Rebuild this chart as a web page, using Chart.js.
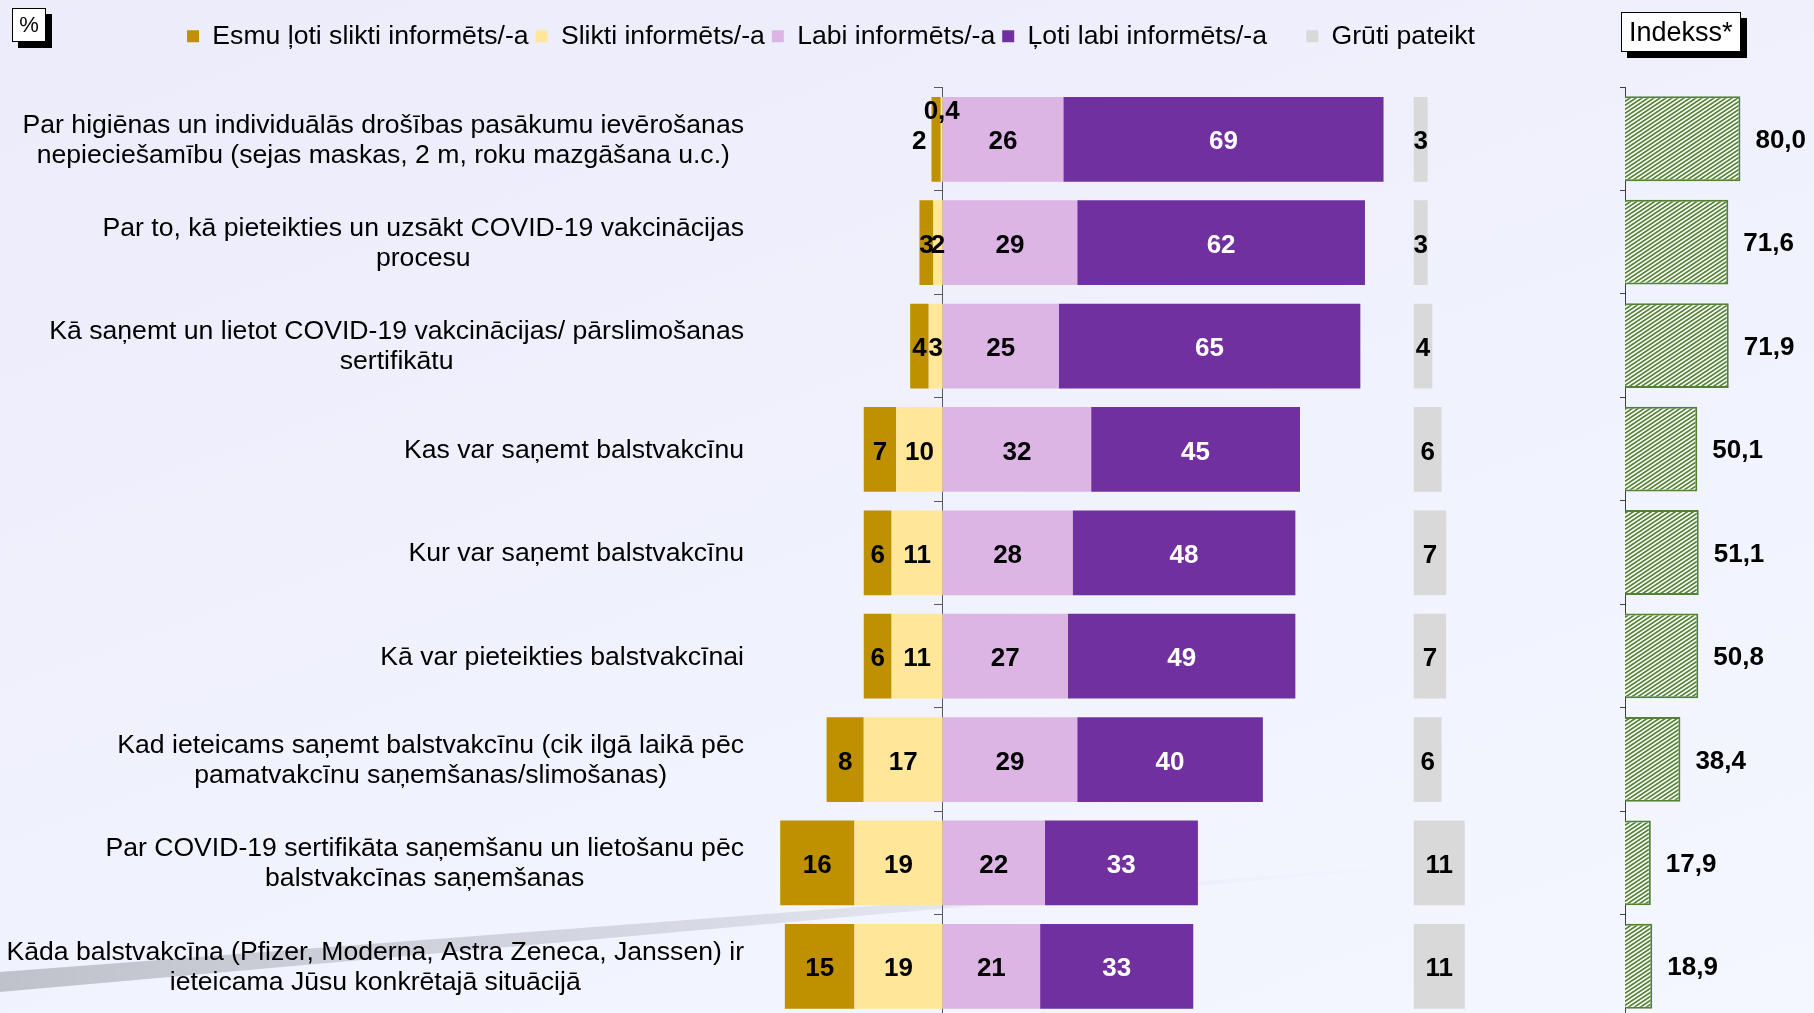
<!DOCTYPE html>
<html lang="lv">
<head>
<meta charset="utf-8">
<title>Informētība par balstvakcināciju</title>
<script src="https://cdn.jsdelivr.net/npm/chart.js@4.4.1/dist/chart.umd.min.js"></script>
<style>
  html, body { margin: 0; padding: 0; }
  body {
    width: 1814px;
    height: 1013px;
    overflow: hidden;
    position: relative;
    background: linear-gradient(160deg, #ECECFA 0%, #F0F2FD 55%, #F4F7FF 100%);
    font-family: "Liberation Sans", Arial, sans-serif;
  }
  canvas { position: absolute; top: 0; }
  #mainChart { left: 0; }
  #indexChart { left: 1615px; }
  .tag {
    position: absolute;
    background: #fff;
    border: 1px solid #000;
    box-shadow: 6px 6px 0 #000;
    color: #000;
  }
  #pct { left: 12px; top: 8px; width: 32px; height: 32px; font-size: 22px; line-height: 32px; text-align: center; }
  #idx { left: 1621px; top: 12px; height: 38px; padding: 0 7px; font-size: 27px; line-height: 38px; }
</style>
</head>
<body>
<canvas id="mainChart" width="1662" height="1018"></canvas>
<canvas id="indexChart" width="199" height="1018"></canvas>
<div class="tag" id="pct">%</div>
<div class="tag" id="idx">Indekss*</div>

<script>
const CATEGORIES = [
    ["Par higiēnas un individuālās drošības pasākumu ievērošanas", "nepieciešamību (sejas maskas, 2 m, roku mazgāšana u.c.)"],
    ["Par to, kā pieteikties un uzsākt COVID-19 vakcinācijas", "procesu"],
    ["Kā saņemt un lietot COVID-19 vakcinācijas/ pārslimošanas", "sertifikātu"],
    ["Kas var saņemt balstvakcīnu"],
    ["Kur var saņemt balstvakcīnu"],
    ["Kā var pieteikties balstvakcīnai"],
    ["Kad ieteicams saņemt balstvakcīnu (cik ilgā laikā pēc", "pamatvakcīnu saņemšanas/slimošanas)"],
    ["Par COVID-19 sertifikāta saņemšanu un lietošanu pēc", "balstvakcīnas saņemšanas"],
    ["Kāda balstvakcīna (Pfizer, Moderna, Astra Zeneca, Janssen) ir", "ieteicama Jūsu konkrētajā situācijā"]
];

const SERIES_NAMES = [
    "Esmu ļoti slikti informēts/-a",
    "Slikti informēts/-a",
    "Labi informēts/-a",
    "Ļoti labi informēts/-a",
    "Grūti pateikt"
];

const VERY_BAD = [2, 3, 4, 7, 6, 6, 8, 16, 15];
const BAD = [0.4, 2, 3, 10, 11, 11, 17, 19, 19];
const GOOD = [26, 29, 25, 32, 28, 27, 29, 22, 21];
const VERY_GOOD = [69, 62, 65, 45, 48, 49, 40, 33, 33];
const HARD_TO_SAY = [3, 3, 4, 6, 7, 7, 6, 11, 11];
const INDEX = [80.0, 71.6, 71.9, 50.1, 51.1, 50.8, 38.4, 17.9, 18.9];

// where the separate "Grūti pateikt" column starts on the value axis
const HARD_COLUMN_START = 101.5;

const FONT = '"Liberation Sans", Arial, sans-serif';
const TEXT_SIZE = 26.6;
const fmt = v => String(v).replace(".", ",");

// gray swoosh in the lower left corner of the slide
const swoosh = {
    id: "swoosh",
    beforeDraw(chart) {
        const ctx = chart.ctx;
        ctx.save();
        const g = ctx.createLinearGradient(0, 0, 1400, 0);
        g.addColorStop(0, "rgba(192,194,203,1)");
        g.addColorStop(0.5, "rgba(208,210,221,0.8)");
        g.addColorStop(1, "rgba(225,228,240,0)");
        ctx.fillStyle = g;
        ctx.beginPath();
        ctx.moveTo(0, 972);
        ctx.lineTo(1400, 866);
        ctx.lineTo(1400, 868);
        ctx.lineTo(0, 992);
        ctx.closePath();
        ctx.fill();
        ctx.restore();
    }
};

// category text: block right aligned, lines centred inside the block
const categoryText = {
    id: "categoryText",
    afterDraw(chart) {
        const yScale = chart.scales.y;
        const ctx = chart.ctx;
        ctx.save();
        ctx.font = TEXT_SIZE + "px " + FONT;
        ctx.fillStyle = "#000";
        ctx.textAlign = "center";
        ctx.textBaseline = "middle";
        const right = chart.chartArea.left - 13;
        CATEGORIES.forEach((lines, i) => {
            const yc = yScale.getPixelForValue(i);
            const w = Math.max(...lines.map(l => ctx.measureText(l).width));
            const cx = right - w / 2;
            lines.forEach((line, j) => {
                ctx.fillText(line, cx, yc + 1 + (j - (lines.length - 1) / 2) * 30);
            });
        });
        ctx.restore();
    }
};

const valueLabels = {
    id: "valueLabels",
    afterDatasetsDraw(chart) {
        const ctx = chart.ctx;
        ctx.save();
        ctx.font = "bold 26px " + FONT;
        ctx.textBaseline = "middle";
        chart.data.datasets.forEach((ds, di) => {
            const meta = chart.getDatasetMeta(di);
            meta.data.forEach((bar, i) => {
                const v = ds.values[i];
                const p = bar.getProps(["x", "base", "y", "height"], true);
                const left = Math.min(p.x, p.base);
                let x = (p.x + p.base) / 2;
                let y = p.y + 3;
                ctx.textAlign = "center";
                ctx.fillStyle = ds.labelColor || "#000";
                if (v < 1) {
                    y = p.y - p.height / 2 + 15;
                } else if (ds.key === "veryBad" && BAD[i] < 1) {
                    ctx.textAlign = "right";
                    x = left - 5;
                }
                ctx.fillText(fmt(v), x, y);
            });
        });
        ctx.restore();
    }
};

const labels = CATEGORIES.map(lines => lines.join(" "));

// stacking order: the dataset listed first sits next to zero
const mainDatasets = [
    { key: "bad", label: SERIES_NAMES[1], values: BAD, data: BAD.map(v => -v), backgroundColor: "#FFE699", legendPos: 1 },
    { key: "veryBad", label: SERIES_NAMES[0], values: VERY_BAD, data: VERY_BAD.map(v => -v), backgroundColor: "#BF9000", legendPos: 0 },
    { key: "good", label: SERIES_NAMES[2], values: GOOD, data: GOOD, backgroundColor: "#DDB5E5", legendPos: 2 },
    { key: "veryGood", label: SERIES_NAMES[3], values: VERY_GOOD, data: VERY_GOOD, backgroundColor: "#7030A0", labelColor: "#fff", legendPos: 3 },
    {
        key: "hard", label: SERIES_NAMES[4], values: HARD_TO_SAY,
        data: HARD_TO_SAY.map(v => [HARD_COLUMN_START, HARD_COLUMN_START + v]),
        backgroundColor: "#D9D9D9", stack: "side", grouped: false, legendPos: 5
    }
];

new Chart(document.getElementById("mainChart"), {
    type: "bar",
    data: { labels: labels, datasets: mainDatasets },
    options: {
        responsive: false,
        animation: false,
        indexAxis: "y",
        layout: { padding: { top: 16, left: 0, right: 0, bottom: 0 } },
        datasets: { bar: { barPercentage: 0.82, categoryPercentage: 1, borderWidth: 0 } },
        scales: {
            x: {
                position: "top",
                stacked: true,
                min: -40,
                max: 155,
                ticks: { display: false },
                grid: { display: false },
                border: { display: false },
                afterFit(scale) { scale.height = 28; }
            },
            y: {
                stacked: true,
                ticks: { display: false },
                grid: { display: false },
                border: { display: false },
                afterFit(scale) { scale.width = 757; }
            },
            zeroAxis: {
                axis: "y",
                type: "category",
                position: { x: 0 },
                offset: true,
                ticks: { display: false },
                grid: { offset: true, drawOnChartArea: false, drawTicks: true, tickLength: 8, color: "#595959" },
                border: { color: "#595959", width: 1 }
            }
        },
        plugins: {
            tooltip: { enabled: false },
            legend: {
                position: "top",
                align: "center",
                labels: {
                    boxWidth: 12,
                    boxHeight: 12,
                    padding: 7,
                    color: "#000",
                    font: { family: FONT, size: TEXT_SIZE },
                    generateLabels(chart) {
                        const items = Chart.defaults.plugins.legend.labels.generateLabels(chart);
                        items.sort((a, b) => chart.data.datasets[a.datasetIndex].legendPos - chart.data.datasets[b.datasetIndex].legendPos);
                        // blank entry, like the hidden spacer series of the original
                        items.splice(4, 0, {
                            text: "", fillStyle: "rgba(0,0,0,0)", strokeStyle: "rgba(0,0,0,0)",
                            lineWidth: 0, hidden: false, datasetIndex: -1
                        });
                        return items;
                    }
                },
                onClick: null
            }
        }
    },
    plugins: [swoosh, categoryText, valueLabels]
});

function makeHatch() {
    const tile = document.createElement("canvas");
    tile.width = 6;
    tile.height = 4;
    const c = tile.getContext("2d");
    c.fillStyle = "#fff";
    c.fillRect(0, 0, 6, 4);
    c.strokeStyle = "#548235";
    c.lineWidth = 1.7;
    for (const k of [-6, 0, 6]) {
        c.beginPath();
        c.moveTo(k - 3, 6);
        c.lineTo(k + 9, -2);
        c.stroke();
    }
    return c.createPattern(tile, "repeat");
}

const indexLabels = {
    id: "indexLabels",
    afterDatasetsDraw(chart) {
        const ctx = chart.ctx;
        ctx.save();
        ctx.font = "bold 26px " + FONT;
        ctx.fillStyle = "#000";
        ctx.textAlign = "left";
        ctx.textBaseline = "middle";
        chart.getDatasetMeta(0).data.forEach((bar, i) => {
            const p = bar.getProps(["x", "y"], true);
            ctx.fillText(INDEX[i].toFixed(1).replace(".", ","), p.x + 15, p.y + 2);
        });
        ctx.restore();
    }
};

new Chart(document.getElementById("indexChart"), {
    type: "bar",
    data: {
        labels: labels,
        datasets: [{
            label: "Indekss",
            data: INDEX,
            backgroundColor: makeHatch(),
            borderColor: "#548235",
            borderWidth: 2,
            barPercentage: 0.82,
            categoryPercentage: 1
        }]
    },
    options: {
        responsive: false,
        animation: false,
        indexAxis: "y",
        layout: { padding: { top: 87, left: 0, right: 0, bottom: 0 } },
        scales: {
            x: { display: false, min: 0, max: 131 },
            y: {
                ticks: { display: false },
                grid: { offset: true, drawOnChartArea: false, drawTicks: true, tickLength: 5, color: "#404040" },
                border: { color: "#404040", width: 1 },
                afterFit(scale) { scale.width = 10; }
            }
        },
        plugins: { legend: { display: false }, tooltip: { enabled: false } }
    },
    plugins: [indexLabels]
});
</script>
</body>
</html>
